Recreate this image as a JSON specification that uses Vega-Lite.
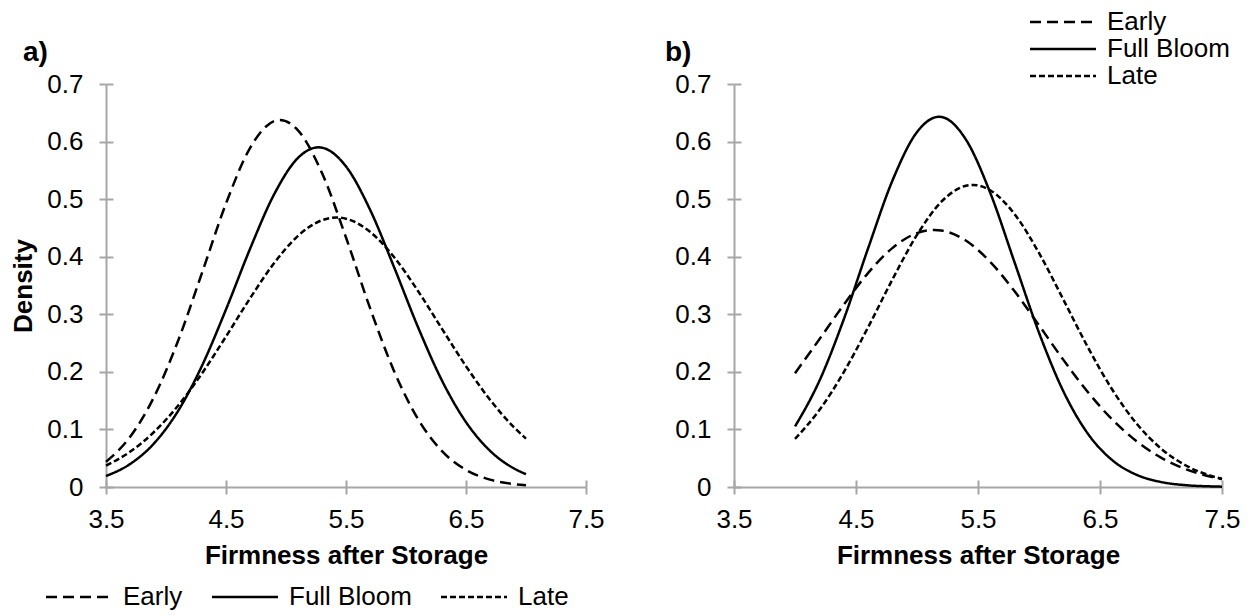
{
  "$schema": "https://vega.github.io/schema/vega-lite/v6.json",
  "padding": {"left": 10, "top": 9, "right": 5, "bottom": 5},
  "bounds": "flush",
  "spacing": 148,
  "config": {
    "font": "Liberation Sans",
    "view": {"stroke": null},
    "axis": {
      "domainColor": "#a6a6a6", "domainWidth": 2,
      "tickColor": "#a6a6a6", "tickWidth": 2, "tickSize": 7,
      "labelFont": "Liberation Sans", "labelFontSize": 26, "labelColor": "#000000",
      "titleFont": "Liberation Sans", "titleFontSize": 26, "titleFontWeight": "bold", "titleColor": "#000000",
      "grid": false, "labelFlush": false, "labelOverlap": false
    },
    "legend": {
      "labelFont": "Liberation Sans", "labelFontSize": 26, "labelColor": "#000000",
      "padding": 0
    }
  },
  "datasets": {
    "a": [
      {"series": "Early", "x": 3.5, "y": 0.0436},
      {"series": "Early", "x": 3.7, "y": 0.0868},
      {"series": "Early", "x": 3.9, "y": 0.1562},
      {"series": "Early", "x": 4.1, "y": 0.2536},
      {"series": "Early", "x": 4.3, "y": 0.3719},
      {"series": "Early", "x": 4.5, "y": 0.4924},
      {"series": "Early", "x": 4.7, "y": 0.5886},
      {"series": "Early", "x": 4.9, "y": 0.6355},
      {"series": "Early", "x": 4.95, "y": 0.6375},
      {"series": "Early", "x": 5.1, "y": 0.6195},
      {"series": "Early", "x": 5.3, "y": 0.5453},
      {"series": "Early", "x": 5.5, "y": 0.4334},
      {"series": "Early", "x": 5.7, "y": 0.3110},
      {"series": "Early", "x": 5.9, "y": 0.2016},
      {"series": "Early", "x": 6.1, "y": 0.1180},
      {"series": "Early", "x": 6.3, "y": 0.0623},
      {"series": "Early", "x": 6.5, "y": 0.0297},
      {"series": "Early", "x": 6.7, "y": 0.0128},
      {"series": "Early", "x": 6.9, "y": 0.0050},
      {"series": "Early", "x": 7.0, "y": 0.0030},
      {"series": "Full Bloom", "x": 3.5, "y": 0.0191},
      {"series": "Full Bloom", "x": 3.7, "y": 0.0398},
      {"series": "Full Bloom", "x": 3.9, "y": 0.0757},
      {"series": "Full Bloom", "x": 4.1, "y": 0.1319},
      {"series": "Full Bloom", "x": 4.3, "y": 0.2107},
      {"series": "Full Bloom", "x": 4.5, "y": 0.3084},
      {"series": "Full Bloom", "x": 4.7, "y": 0.4135},
      {"series": "Full Bloom", "x": 4.9, "y": 0.5079},
      {"series": "Full Bloom", "x": 5.1, "y": 0.5716},
      {"series": "Full Bloom", "x": 5.27, "y": 0.5900},
      {"series": "Full Bloom", "x": 5.3, "y": 0.5894},
      {"series": "Full Bloom", "x": 5.5, "y": 0.5568},
      {"series": "Full Bloom", "x": 5.7, "y": 0.4819},
      {"series": "Full Bloom", "x": 5.9, "y": 0.3822},
      {"series": "Full Bloom", "x": 6.1, "y": 0.2777},
      {"series": "Full Bloom", "x": 6.3, "y": 0.1848},
      {"series": "Full Bloom", "x": 6.5, "y": 0.1127},
      {"series": "Full Bloom", "x": 6.7, "y": 0.0630},
      {"series": "Full Bloom", "x": 6.9, "y": 0.0322},
      {"series": "Full Bloom", "x": 7.0, "y": 0.0223},
      {"series": "Late", "x": 3.5, "y": 0.0371},
      {"series": "Late", "x": 3.7, "y": 0.0611},
      {"series": "Late", "x": 3.9, "y": 0.0955},
      {"series": "Late", "x": 4.1, "y": 0.1411},
      {"series": "Late", "x": 4.3, "y": 0.1974},
      {"series": "Late", "x": 4.5, "y": 0.2614},
      {"series": "Late", "x": 4.7, "y": 0.3276},
      {"series": "Late", "x": 4.9, "y": 0.3886},
      {"series": "Late", "x": 5.1, "y": 0.4362},
      {"series": "Late", "x": 5.3, "y": 0.4634},
      {"series": "Late", "x": 5.42, "y": 0.4680},
      {"series": "Late", "x": 5.5, "y": 0.4659},
      {"series": "Late", "x": 5.7, "y": 0.4434},
      {"series": "Late", "x": 5.9, "y": 0.3994},
      {"series": "Late", "x": 6.1, "y": 0.3405},
      {"series": "Late", "x": 6.3, "y": 0.2747},
      {"series": "Late", "x": 6.5, "y": 0.2098},
      {"series": "Late", "x": 6.7, "y": 0.1516},
      {"series": "Late", "x": 6.9, "y": 0.1037},
      {"series": "Late", "x": 7.0, "y": 0.0840}
    ],
    "b": [
      {"series": "Early", "x": 4.0, "y": 0.1977},
      {"series": "Early", "x": 4.2, "y": 0.2566},
      {"series": "Early", "x": 4.4, "y": 0.3168},
      {"series": "Early", "x": 4.6, "y": 0.3720},
      {"series": "Early", "x": 4.8, "y": 0.4154},
      {"series": "Early", "x": 5.0, "y": 0.4411},
      {"series": "Early", "x": 5.14, "y": 0.4466},
      {"series": "Early", "x": 5.2, "y": 0.4456},
      {"series": "Early", "x": 5.4, "y": 0.4281},
      {"series": "Early", "x": 5.6, "y": 0.3911},
      {"series": "Early", "x": 5.8, "y": 0.3399},
      {"series": "Early", "x": 6.0, "y": 0.2809},
      {"series": "Early", "x": 6.2, "y": 0.2208},
      {"series": "Early", "x": 6.4, "y": 0.1650},
      {"series": "Early", "x": 6.6, "y": 0.1173},
      {"series": "Early", "x": 6.8, "y": 0.0794},
      {"series": "Early", "x": 7.0, "y": 0.0510},
      {"series": "Early", "x": 7.2, "y": 0.0312},
      {"series": "Early", "x": 7.4, "y": 0.0182},
      {"series": "Early", "x": 7.5, "y": 0.0136},
      {"series": "Full Bloom", "x": 4.0, "y": 0.1051},
      {"series": "Full Bloom", "x": 4.2, "y": 0.1844},
      {"series": "Full Bloom", "x": 4.4, "y": 0.2914},
      {"series": "Full Bloom", "x": 4.6, "y": 0.4151},
      {"series": "Full Bloom", "x": 4.8, "y": 0.5329},
      {"series": "Full Bloom", "x": 5.0, "y": 0.6165},
      {"series": "Full Bloom", "x": 5.18, "y": 0.6430},
      {"series": "Full Bloom", "x": 5.2, "y": 0.6427},
      {"series": "Full Bloom", "x": 5.4, "y": 0.6038},
      {"series": "Full Bloom", "x": 5.6, "y": 0.5112},
      {"series": "Full Bloom", "x": 5.8, "y": 0.3900},
      {"series": "Full Bloom", "x": 6.0, "y": 0.2681},
      {"series": "Full Bloom", "x": 6.2, "y": 0.1661},
      {"series": "Full Bloom", "x": 6.4, "y": 0.0928},
      {"series": "Full Bloom", "x": 6.6, "y": 0.0467},
      {"series": "Full Bloom", "x": 6.8, "y": 0.0212},
      {"series": "Full Bloom", "x": 7.0, "y": 0.0087},
      {"series": "Full Bloom", "x": 7.2, "y": 0.0032},
      {"series": "Full Bloom", "x": 7.4, "y": 0.0011},
      {"series": "Full Bloom", "x": 7.5, "y": 0.0006},
      {"series": "Late", "x": 4.0, "y": 0.0835},
      {"series": "Late", "x": 4.2, "y": 0.1336},
      {"series": "Late", "x": 4.4, "y": 0.1995},
      {"series": "Late", "x": 4.6, "y": 0.2778},
      {"series": "Late", "x": 4.8, "y": 0.3611},
      {"series": "Late", "x": 5.0, "y": 0.4379},
      {"series": "Late", "x": 5.2, "y": 0.4955},
      {"series": "Late", "x": 5.4, "y": 0.5232},
      {"series": "Late", "x": 5.457, "y": 0.5247},
      {"series": "Late", "x": 5.6, "y": 0.5155},
      {"series": "Late", "x": 5.8, "y": 0.4739},
      {"series": "Late", "x": 6.0, "y": 0.4065},
      {"series": "Late", "x": 6.2, "y": 0.3254},
      {"series": "Late", "x": 6.4, "y": 0.2430},
      {"series": "Late", "x": 6.6, "y": 0.1693},
      {"series": "Late", "x": 6.8, "y": 0.1101},
      {"series": "Late", "x": 7.0, "y": 0.0668},
      {"series": "Late", "x": 7.2, "y": 0.0378},
      {"series": "Late", "x": 7.4, "y": 0.0200},
      {"series": "Late", "x": 7.5, "y": 0.0142}
    ]
  },
  "resolve": {"scale": {"strokeDash": "independent"}, "legend": {"strokeDash": "independent"}},
  "hconcat": [
    {
      "width": 480,
      "height": 403,
      "title": {"text": "a)", "anchor": "start", "frame": "group", "dx": -83, "offset": -18, "baseline": "alphabetic", "fontSize": 28, "fontWeight": "bold", "font": "Liberation Sans", "color": "#000000"},
      "data": {"name": "a"},
      "layer": [
        {
          "mark": {"type": "line", "interpolate": "monotone", "strokeWidth": 2.5, "color": "#000000"},
          "encoding": {
            "x": {"field": "x", "type": "quantitative", "scale": {"domain": [3.5, 7.5], "nice": false, "zero": false},
                  "axis": {"title": "Firmness after Storage", "values": [3.5, 4.5, 5.5, 6.5, 7.5], "format": ".1f", "labelPadding": 12, "titlePadding": 10}},
            "y": {"field": "y", "type": "quantitative", "scale": {"domain": [0, 0.7], "nice": false},
                  "axis": {"title": "Density", "values": [0, 0.1, 0.2, 0.3, 0.4, 0.5, 0.6, 0.7], "format": ".1~f", "labelPadding": 16, "titlePadding": 10}},
            "strokeDash": {"field": "series", "type": "nominal",
                  "scale": {"domain": ["Early", "Full Bloom", "Late"], "range": [[11, 6], [1, 0], [6, 3]]},
                  "legend": {"title": null, "orient": "none", "legendX": -62, "legendY": 500, "direction": "horizontal",
                             "symbolType": "M-1,0H5", "symbolSize": 484, "symbolStrokeWidth": 2.5, "symbolStrokeColor": "#000000",
                             "labelOffset": 53, "columnPadding": 24}}
          }
        },
        {
          "mark": {"type": "line", "opacity": 0},
          "encoding": {
            "x": {"field": "x", "type": "quantitative", "axis": {"orient": "bottom", "offset": 0, "tickSize": -7, "labels": false, "domain": false, "title": null, "values": [3.5, 4.5, 5.5, 6.5, 7.5]}},
            "y": {"field": "y", "type": "quantitative", "axis": {"orient": "left", "offset": 0, "tickSize": -7, "labels": false, "domain": false, "title": null, "values": [0, 0.1, 0.2, 0.3, 0.4, 0.5, 0.6, 0.7]}}
          }
        }
      ],
      "resolve": {"axis": {"x": "independent", "y": "independent"}}
    },
    {
      "width": 488,
      "height": 403,
      "title": {"text": "b)", "anchor": "start", "frame": "group", "dx": -69, "offset": -80, "baseline": "alphabetic", "fontSize": 28, "fontWeight": "bold", "font": "Liberation Sans", "color": "#000000"},
      "data": {"name": "b"},
      "layer": [
        {
          "mark": {"type": "line", "interpolate": "monotone", "strokeWidth": 2.5, "color": "#000000"},
          "encoding": {
            "x": {"field": "x", "type": "quantitative", "scale": {"domain": [3.5, 7.5], "nice": false, "zero": false},
                  "axis": {"title": "Firmness after Storage", "values": [3.5, 4.5, 5.5, 6.5, 7.5], "format": ".1f", "labelPadding": 12, "titlePadding": 10}},
            "y": {"field": "y", "type": "quantitative", "scale": {"domain": [0, 0.7], "nice": false},
                  "axis": {"title": null, "values": [0, 0.1, 0.2, 0.3, 0.4, 0.5, 0.6, 0.7], "format": ".1~f", "labelPadding": 16}},
            "strokeDash": {"field": "series", "type": "nominal",
                  "scale": {"domain": ["Early", "Full Bloom", "Late"], "range": [[11, 6], [1, 0], [6, 3]]},
                  "legend": {"title": null, "orient": "none", "legendX": 294, "legendY": -75, "direction": "vertical",
                             "symbolType": "M-1,0H5", "symbolSize": 484, "symbolStrokeWidth": 2.5, "symbolStrokeColor": "#000000",
                             "labelOffset": 53, "rowPadding": 1}}
          }
        },
        {
          "mark": {"type": "line", "opacity": 0},
          "encoding": {
            "x": {"field": "x", "type": "quantitative", "axis": {"orient": "bottom", "offset": 0, "tickSize": -7, "labels": false, "domain": false, "title": null, "values": [3.5, 4.5, 5.5, 6.5, 7.5]}},
            "y": {"field": "y", "type": "quantitative", "axis": {"orient": "left", "offset": 0, "tickSize": -7, "labels": false, "domain": false, "title": null, "values": [0, 0.1, 0.2, 0.3, 0.4, 0.5, 0.6, 0.7]}}
          }
        }
      ],
      "resolve": {"axis": {"x": "independent", "y": "independent"}}
    }
  ]
}
